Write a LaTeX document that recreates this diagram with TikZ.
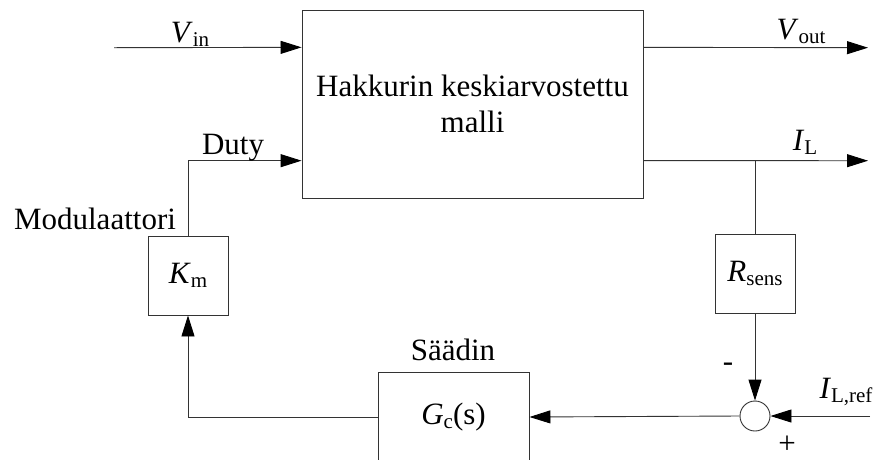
\documentclass[tikz,border=0pt]{standalone}
\usepackage{fontspec}
\setmainfont{Liberation Serif}
\usetikzlibrary{arrows.meta,calc}
% italic symbol with a roman subscript
\newcommand\symsub[2]{\textit{#1}\raisebox{-4pt}{\fontsize{21}{21}\selectfont #2}}

\begin{document}
\begin{tikzpicture}[x=1pt,y=-1pt,
  font=\fontsize{31}{36}\selectfont,
  wire/.style={draw=black!80, line width=0.9pt},
  arr/.style={wire, -{Triangle[length=21pt,width=13pt,color=black]}},
  blk/.style={draw=black!80, line width=0.9pt, fill=white, inner sep=0pt, align=center},
  lbl/.style={inner sep=0pt, anchor=base},
]
\useasboundingbox (0,0) rectangle (876,459);

% blocks
\node[blk, minimum width=341pt, minimum height=188pt] (plant) at (472.5,104)
  {Hakkurin keskiarvostettu\\malli};
\node[blk, minimum width=80pt, minimum height=79pt] (km) at (188,275.5) {\symsub{K}{m}};
\node[blk, minimum width=80pt, minimum height=79pt] (rs) at (755,273.5) {\symsub{R}{sens}};
\node[blk, minimum width=151pt, minimum height=90pt] (gc) at (453.5,417) {\symsub{G}{c}(s)};
\node[draw=black!80, line width=0.9pt, circle, minimum size=30pt, inner sep=0pt] (sum) at (755,416) {};

% free ends of the signal lines
\coordinate (vin) at (114,47.7);
\coordinate (vout) at (868,47.7);
\coordinate (ilout) at (868,160.7);
\coordinate (iref) at (870,416);
\coordinate (vinport) at ($(plant.north west)!0.2!(plant.south west)$);
\coordinate (dutyport) at ($(plant.north west)!0.8!(plant.south west)$);

% connectors
\draw[arr] (vin) -- (vinport);
\draw[arr] (vinport -| plant.east) -- (vout);
\draw[arr] (dutyport -| plant.east) -- (ilout);
\draw[wire] (rs.north |- ilout) -- (rs.north);
\draw[arr] (km.north) |- (dutyport);
\draw[arr] (rs.south) -- (sum.north);
\draw[arr] (iref) -- (sum.east);
\draw[arr] (sum.west) -- (gc.east);
\draw[arr] (gc.west) -| (km.south);

% labels
\node[lbl] (lvin) at (190,42) {\symsub{V}{in}};
\node[lbl] (lduty) at (233,154) {Duty};
\node[lbl] (lvout) at (801,39) {\symsub{V}{out}};
\node[lbl] (lil) at (805,150) {\symsub{I}{L}};
\node[lbl] (lmod) at (95,229) {Modulaattori};
\node[lbl] (lsaa) at (453,360) {Säädin};
\node[lbl] (liref) at (846,398) {\symsub{I}{L,ref}};
\node[lbl] (lminus) at (728,371) {-};
\node[lbl] (lplus) at (787,453) {+};
\end{tikzpicture}
\end{document}
